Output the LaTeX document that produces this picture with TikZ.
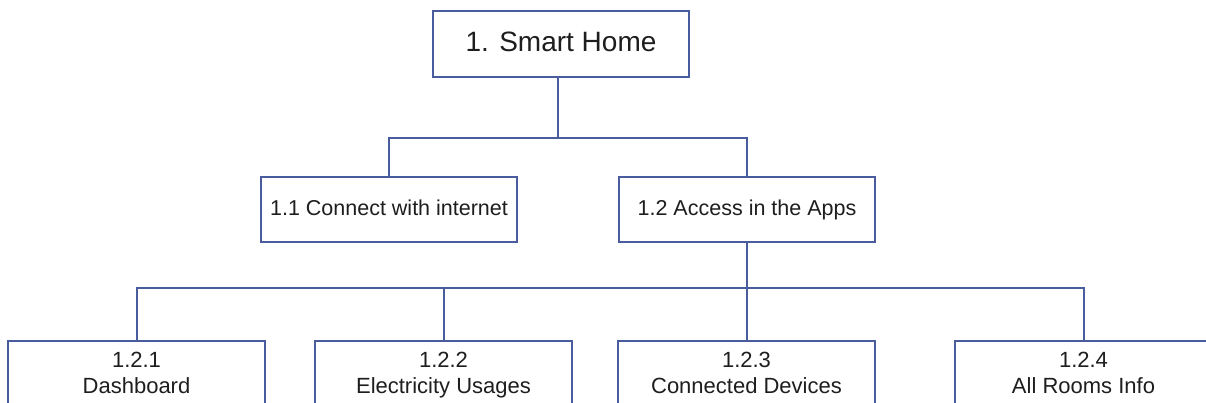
\documentclass[tikz,border=0pt]{standalone}
\usepackage{fontspec}
\setmainfont{Liberation Sans}
\definecolor{boxline}{RGB}{72,92,158}
\definecolor{ink}{RGB}{30,30,30}
% strut that keeps every line the same height, set a little low in its box
\newcommand\linestrut{\rule[-0.25\baselineskip]{0pt}{\baselineskip}}
% two-line label: number above, name below
\newcommand\twoline[2]{\begin{tabular}{@{}c@{}}\rule{0pt}{21pt}#1\\#2\end{tabular}}
\tikzset{
  box/.style={draw=boxline, line width=2pt, fill=white, text=ink,
    minimum width=256pt, minimum height=65pt, inner sep=0pt, align=center,
    execute at begin node=\linestrut},
  rootbox/.style={box, minimum height=66pt, font=\fontsize{28}{32}\selectfont},
  midbox/.style={box, font=\fontsize{21.5}{26}\selectfont},
  leafbox/.style={draw=boxline, line width=2pt, fill=white, text=ink,
    minimum width=257pt, minimum height=65pt, inner sep=0pt,
    font=\fontsize{22}{26}\selectfont},
  link/.style={draw=boxline, line width=2pt}
}
\begin{document}
\begin{tikzpicture}[x=1pt, y=-1pt]
  \useasboundingbox (0,0) rectangle (1206,403);

  % root
  \node[rootbox] (root) at (561,44) {1. Smart Home};

  % second level
  \node[midbox] (c11) at (389,209.5) {1.1 Connect with internet};
  \node[midbox] (c12) at (747,209.5) {1.2 Access in the Apps};

  % third level (under 1.2)
  \node[leafbox] (d1) at (136.5,373.5) {\twoline{1.2.1}{Dashboard}};
  \node[leafbox] (d2) at (443.5,373.5) {\twoline{1.2.2}{Electricity Usages}};
  \node[leafbox] (d3) at (746.5,373.5) {\twoline{1.2.3}{Connected Devices}};
  \node[leafbox] (d4) at (1083.5,373.5) {\twoline{1.2.4}{All Rooms Info}};

  % branch junctions
  \coordinate (j1) at (558,138);
  \coordinate (j2) at (746.5,288);

  % root -> second level
  \draw[link] (root.south -| j1) -- (j1);
  \draw[link] (c11.north) |- (j1) -| (c12.north);

  % 1.2 -> third level
  \draw[link] (c12.south -| j2) -- (j2);
  \draw[link] (d1.north) |- (j2) -| (d4.north);
  \draw[link] (d2.north) -- (d2.north |- j2);
  \draw[link] (d3.north) -- (j2);
\end{tikzpicture}
\end{document}
